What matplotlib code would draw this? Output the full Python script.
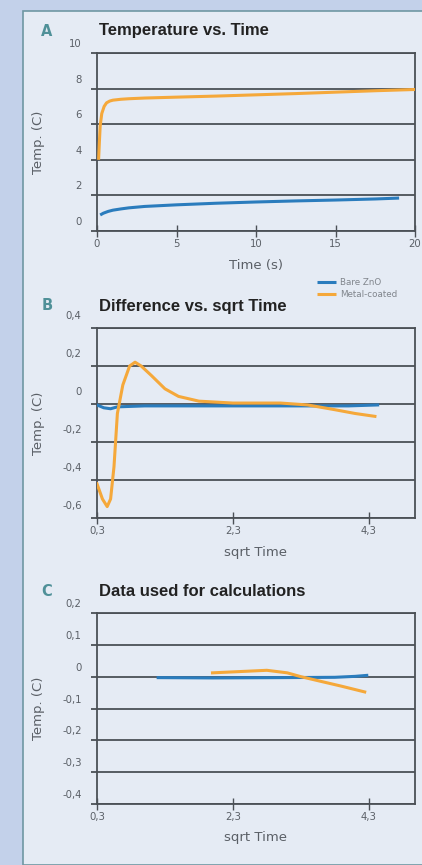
import matplotlib
matplotlib.use("Agg")
from matplotlib import pyplot as plt
from matplotlib.patches import Rectangle
from matplotlib.transforms import ScaledTranslation

# --- panel A : temperature vs time ---
a_time_orange = [0.1, 0.15, 0.2, 0.3, 0.45, 0.6, 0.8, 1.0, 1.5, 2, 3, 5, 7.5, 10, 12.5, 15, 17.5, 20]
a_orange = [4.0, 5.0, 5.9, 6.6, 7.0, 7.2, 7.3, 7.35, 7.4, 7.43, 7.47, 7.52, 7.58, 7.65, 7.72, 7.8, 7.88, 7.95]
a_time_blue = [0.2, 0.4, 0.7, 1.0, 1.5, 2, 3, 5, 7.5, 10, 12.5, 15, 17.5, 19.0]
a_blue = [0.9, 1.0, 1.1, 1.17, 1.24, 1.3, 1.38, 1.47, 1.56, 1.63, 1.69, 1.74, 1.8, 1.85]
a_xticks = [0, 5, 10, 15, 20]
a_xlabels = ["0", "5", "10", "15", "20"]
a_yticks = [0, 2, 4, 6, 8, 10]
a_ylabels = ["0", "2", "4", "6", "8", "10"]

# --- panel B : difference vs sqrt time ---
b_x_orange = [0.3, 0.38, 0.45, 0.5, 0.55, 0.6, 0.68, 0.78, 0.86, 0.95, 1.1, 1.3, 1.5, 1.8, 2.3, 3.0, 3.4, 3.8, 4.1, 4.39]
b_orange = [-0.42, -0.5, -0.54, -0.5, -0.33, -0.05, 0.1, 0.2, 0.22, 0.2, 0.15, 0.08, 0.04, 0.015, 0.005, 0.005, -0.005, -0.03, -0.05, -0.065]
b_x_blue = [0.3, 0.4, 0.5, 0.6, 1.0, 2.0, 3.0, 4.0, 4.43]
b_blue = [-0.005, -0.02, -0.025, -0.015, -0.01, -0.01, -0.01, -0.01, -0.005]

# --- panel C : data used for calculations ---
c_x_orange = [2.0, 2.4, 2.8, 3.1, 3.3, 3.6, 3.9, 4.24]
c_orange = [0.012, 0.016, 0.02, 0.012, 0.0, -0.015, -0.03, -0.048]
c_x_blue = [1.2, 2.0, 3.0, 3.8, 4.1, 4.27]
c_blue = [-0.003, -0.004, -0.003, -0.002, 0.001, 0.004]

sq_xticks = [0.3, 2.3, 4.3]
sq_xlabels = ["0,3", "2,3", "4,3"]
b_yticks = [-0.6, -0.4, -0.2, 0, 0.2, 0.4]
b_ylabels = ["-0,6", "-0,4", "-0,2", "0", "0,2", "0,4"]
c_yticks = [-0.4, -0.3, -0.2, -0.1, 0, 0.1, 0.2]
c_ylabels = ["-0,4", "-0,3", "-0,2", "-0,1", "0", "0,1", "0,2"]

BLUE = "#2a7cbd"
ORANGE = "#f5a83a"
GRID = "#4b5056"
TXT = "#5a5f66"
W, H = 422, 865

fig = plt.figure(figsize=(W / 100, H / 100), dpi=100)
fig.patch.set_facecolor("#c3d1ea")
fig.patches.append(Rectangle((23 / W, 0), 1, (H - 11) / H, transform=fig.transFigure,
                             facecolor="#e5ebf4", edgecolor="#6f97a3", lw=1.2, zorder=-5))


def px_axes(left, top, right, bottom):
    return fig.add_axes([left / W, (H - bottom) / H, (right - left) / W, (bottom - top) / H])


def style(ax, xlim, ylim, xticks, xlabels, yticks, ylabels, xlabel, shift, xlab_y, title, letter):
    ax.set_facecolor("none")
    ax.set_xlim(*xlim)
    ax.set_ylim(*ylim)
    ax.set_xticks(xticks)
    ax.set_xticklabels(xlabels)
    ax.set_yticks(yticks)
    ax.set_yticklabels(ylabels)
    ax.grid(axis="y", color=GRID, lw=1.3, zorder=1)
    for s in ax.spines.values():
        s.set_color(GRID)
        s.set_linewidth(1.3)
    ax.tick_params(axis="y", length=4, width=1.3, color=GRID, pad=7, labelsize=7.3, labelcolor=TXT)
    ax.tick_params(axis="x", direction="inout", length=8, width=1.0, color=GRID, pad=2,
                   labelsize=7.3, labelcolor=TXT)
    # tick labels sit a little above their gridlines in the original
    off = ScaledTranslation(0, shift / 100, fig.dpi_scale_trans)
    for t in ax.yaxis.get_major_ticks():
        t.label1.set_transform(t.label1.get_transform() + off)
    ax.set_ylabel("Temp. (C)", fontsize=9.5, color=TXT)
    ax.yaxis.set_label_coords(-0.165, 0.5)
    ax.set_xlabel(xlabel, fontsize=9.5, color=TXT)
    ax.xaxis.set_label_coords(0.5, xlab_y)
    ax.text(0.005, 1.0, title, transform=ax.transAxes + ScaledTranslation(0, 0.22, fig.dpi_scale_trans),
            ha="left", va="center", fontsize=12, fontweight="bold", color="#222222",
            family=["Liberation Sans", "DejaVu Sans"])
    ax.text(-0.158, 1.0, letter, transform=ax.transAxes + ScaledTranslation(0, 0.22, fig.dpi_scale_trans),
            ha="center", va="center", fontsize=10.5, fontweight="bold", color="#4f9098")


# panel A
axA = px_axes(97, 53, 415, 231)
axA.plot(a_time_blue, a_blue, color=BLUE, lw=2.2, zorder=3, label="Bare ZnO", solid_capstyle="butt")
axA.plot(a_time_orange, a_orange, color=ORANGE, lw=2.2, zorder=3, label="Metal-coated", solid_capstyle="butt")
style(axA, (0, 20), (0, 10), a_xticks, a_xlabels, a_yticks, a_ylabels, "Time (s)", 10, -0.16,
      "Temperature vs. Time", "A")

# panel B
axB = px_axes(97, 328, 415, 518)
axB.plot(b_x_blue, b_blue, color=BLUE, lw=2.2, zorder=3)
axB.plot(b_x_orange, b_orange, color=ORANGE, lw=2.2, zorder=3)
style(axB, (0.3, 4.98), (-0.6, 0.4), sq_xticks, sq_xlabels, b_yticks, b_ylabels, "sqrt Time", 13, -0.145,
      "Difference vs. sqrt Time", "B")

# panel C
axC = px_axes(97, 613, 415, 804)
axC.plot(c_x_blue, c_blue, color=BLUE, lw=2.2, zorder=3)
axC.plot(c_x_orange, c_orange, color=ORANGE, lw=2.2, zorder=3)
style(axC, (0.3, 4.98), (-0.4, 0.2), sq_xticks, sq_xlabels, c_yticks, c_ylabels, "sqrt Time", 10, -0.14,
      "Data used for calculations", "C")

h, l = axA.get_legend_handles_labels()
fig.legend(h, l, loc="upper left", bbox_to_anchor=(317 / W, 1 - 278 / H), frameon=False,
           fontsize=6.3, handlelength=2.2, handletextpad=0.4, labelspacing=0.3,
           labelcolor="#80858c", borderpad=0, borderaxespad=0)

fig.savefig("out.png", dpi=100, facecolor=fig.get_facecolor())
